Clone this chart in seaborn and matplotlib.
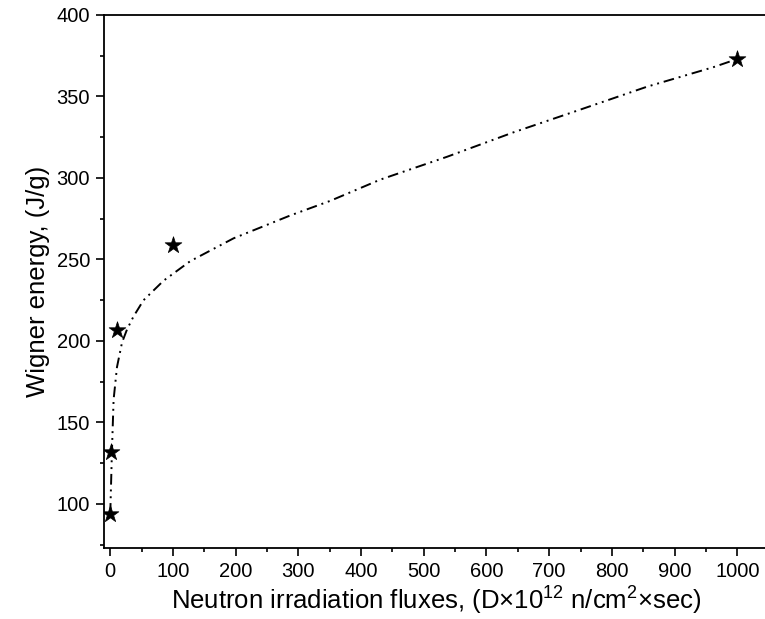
import matplotlib
matplotlib.use("Agg")
import matplotlib.pyplot as plt
import seaborn as sns
import pandas as pd
from matplotlib.ticker import MultipleLocator

# measured data (stars)
flux = [0, 1, 10, 100, 1000]
energy = [94, 132, 207, 259, 373]

# fitted curve
fit_x = [0, 2.7, 5.3, 10.7, 18.7, 26.6, 37, 53, 85, 127.6, 196.7, 287, 351,
         430.6, 537, 643, 750, 856, 962, 1000]
fit_y = [94, 133, 164, 184, 199, 207, 215, 225, 237, 249, 263, 277, 286,
         299, 313, 328, 342, 356, 368, 373]

xticks = list(range(0, 1001, 100))
yticks = [100, 150, 200, 250, 300, 350, 400]

sns.set_theme(style="ticks")
plt.rcParams['font.family'] = ['Liberation Sans', 'DejaVu Sans']
plt.rcParams['mathtext.fontset'] = 'custom'
plt.rcParams['mathtext.rm'] = 'Liberation Sans'
plt.rcParams['mathtext.it'] = 'Liberation Sans:italic'

fig = plt.figure(figsize=(7.65, 6.19), dpi=100)
W, H = 765, 619
ax = fig.add_axes([104 / W, (H - 548) / H, 664.6 / W, (548 - 15) / H])

curve = pd.DataFrame({"x": fit_x, "y": fit_y})
pts = pd.DataFrame({"x": flux, "y": energy})

sns.lineplot(data=curve, x="x", y="y", ax=ax, color="black", linewidth=1.4,
             linestyle=(0, (5.5, 2.5, 1, 2.5, 1, 2.5)), sort=False)
sns.scatterplot(data=pts, x="x", y="y", ax=ax, marker="*", s=160,
                color="black", edgecolor="black", linewidth=0.5, zorder=5)

ax.set_xlim(-10, 1050)
ax.set_ylim(73, 400)
ax.set_xticks(xticks)
ax.set_yticks(yticks)
ax.xaxis.set_minor_locator(MultipleLocator(50))
ax.yaxis.set_minor_locator(MultipleLocator(25))
ax.tick_params(which="major", direction="out", length=6, width=1.2,
               labelsize=14.5, color="black", labelcolor="black", pad=4)
ax.tick_params(which="minor", direction="out", length=3, width=1.2, color="black")
ax.tick_params(axis="x", which="both", top=False)
ax.tick_params(axis="y", which="both", right=False)

for s in ["left", "bottom", "top"]:
    ax.spines[s].set_color("black")
    ax.spines[s].set_linewidth(1.3)
ax.spines["right"].set_visible(False)

ax.set_xlabel(r"Neutron irradiation fluxes, (D×10$^{\mathregular{12}}$ n/cm$^{\mathregular{2}}$×sec)",
              fontsize=18.5, color="black", labelpad=3)
ax.set_ylabel("Wigner energy, (J/g)", fontsize=18.5, color="black", labelpad=5)

fig.savefig("out.png", dpi=100)
